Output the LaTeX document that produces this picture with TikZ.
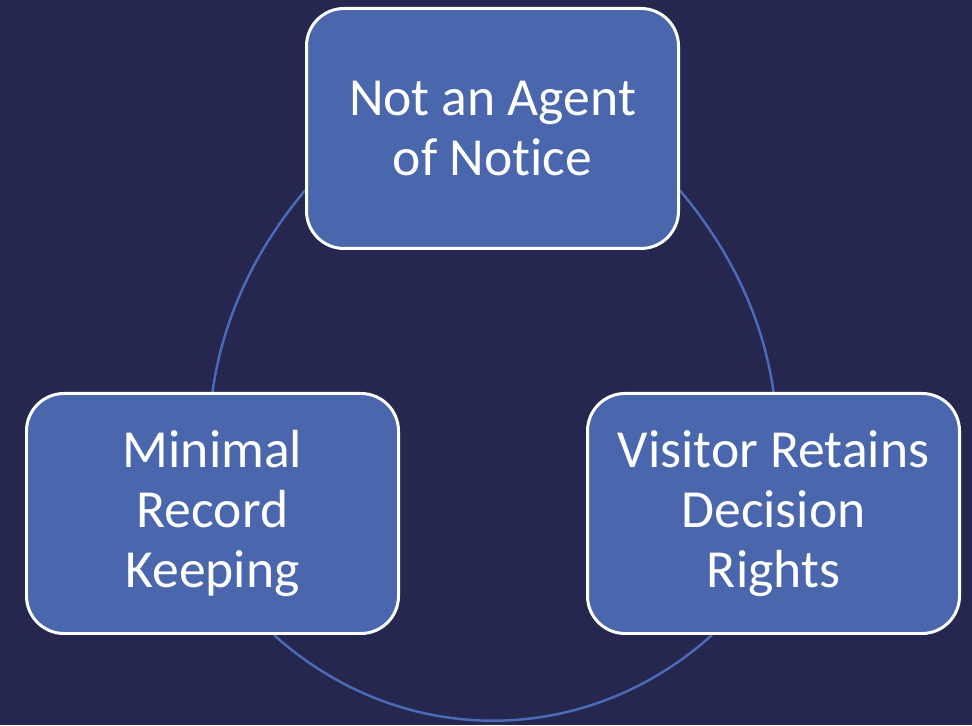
\documentclass[tikz,border=0pt]{standalone}
\usepackage{fontspec}
\setmainfont{Carlito}[Ligatures=NoCommon]
\usepackage{xcolor}
\usetikzlibrary{backgrounds}
\definecolor{navy}{HTML}{25274F}
\definecolor{boxblue}{HTML}{4A67AE}
\definecolor{ringblue}{HTML}{4A6CB8}
\tikzset{
  box/.style={draw=white, line width=1.7pt, fill=boxblue, rounded corners=0.75cm,
    minimum width=7.44cm, minimum height=4.8cm, inner sep=0pt, text=white,
    align=center, font=\fontsize{30.5}{34}\selectfont},
  ring/.style={draw=ringblue, line width=1.4pt}
}
\begin{document}
\begin{tikzpicture}
\useasboundingbox (0,0) rectangle (19.44,14.5);
\draw (9.85,11.93) node[box](agent) {Not an Agent\\of Notice};
\draw (4.25,4.23) node[box](record) {Minimal\\Record\\Keeping};
\draw (15.47,4.23) node[box](visitor) {Visitor Retains\\Decision\\Rights};
\begin{pgfonlayer}{background}
\fill[navy] (0,0) rectangle (19.44,14.5);
\draw[ring] ([yshift=-1.24cm]agent.west) to[out=230,in=82,looseness=0.88] (record.north);
\draw[ring] ([yshift=-1.24cm]agent.east) to[out=-50,in=98,looseness=0.88] (visitor.north);
\draw[ring] ([xshift=1.23cm]record.south) to[out=-42,in=222] ([xshift=-1.23cm]visitor.south);
\end{pgfonlayer}
\end{tikzpicture}
\end{document}
